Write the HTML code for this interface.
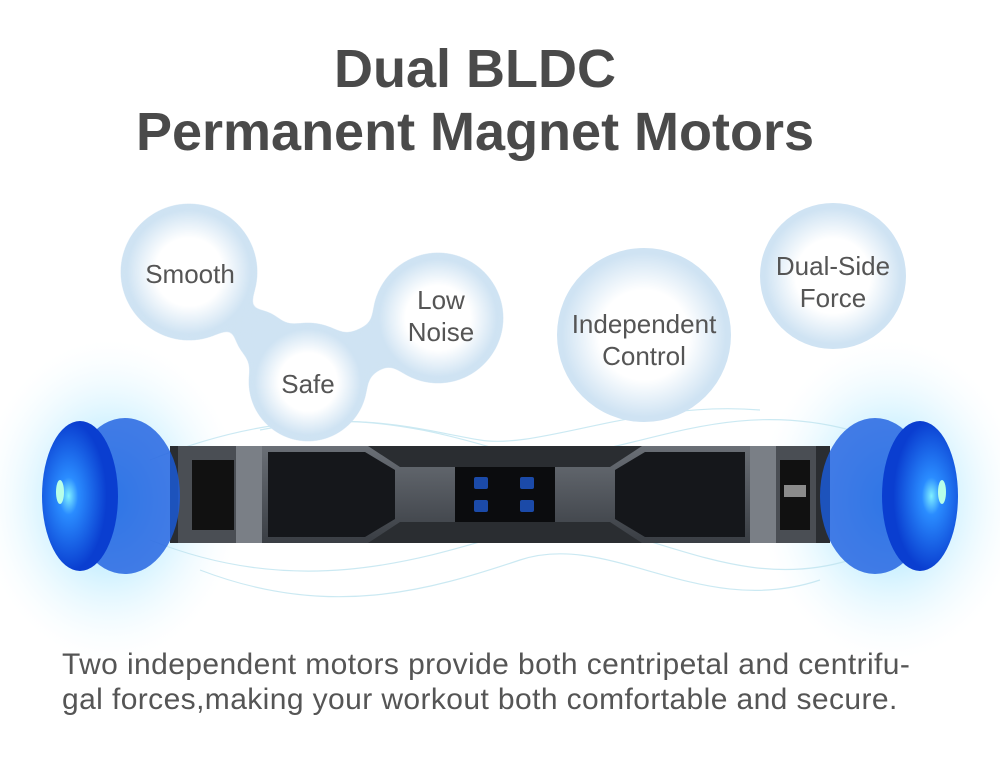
<!DOCTYPE html>
<html><head><meta charset="utf-8"><style>
html,body{margin:0;padding:0;background:#fff}
body{width:1000px;height:764px;overflow:hidden;position:relative;font-family:"Liberation Sans",sans-serif}
.t{position:absolute;left:-25px;width:1000px;text-align:center;color:#4a4a4a;font-weight:bold;font-size:54px;line-height:62px}
.b{position:absolute;left:62px;color:#555;font-size:30px;line-height:35px;width:940px;letter-spacing:0.4px}
</style></head><body>
<svg width="1000" height="764" style="position:absolute;left:0;top:0">
<defs>
<filter id="goo"><feGaussianBlur stdDeviation="9"/><feColorMatrix values="1 0 0 0 0 0 1 0 0 0 0 0 1 0 0 0 0 0 30 -12"/></filter>
<radialGradient id="inner"><stop offset="0.55" stop-color="#fff" stop-opacity="1"/><stop offset="1" stop-color="#fff" stop-opacity="0"/></radialGradient>
<radialGradient id="glow"><stop offset="0" stop-color="#5ad0ff" stop-opacity="0.8"/><stop offset="0.5" stop-color="#a8e6ff" stop-opacity="0.45"/><stop offset="1" stop-color="#e8f8ff" stop-opacity="0"/></radialGradient>
<radialGradient id="wheel" cx="0.35" cy="0.5"><stop offset="0" stop-color="#7ff0ff"/><stop offset="0.25" stop-color="#2a8cff"/><stop offset="1" stop-color="#0a3ed0"/></radialGradient>
<linearGradient id="gray" x1="0" y1="0" x2="0" y2="1"><stop offset="0" stop-color="#6a6f76"/><stop offset="1" stop-color="#3a3e44"/></linearGradient>
</defs>
<ellipse cx="110" cy="500" rx="130" ry="160" fill="url(#glow)"/>
<ellipse cx="890" cy="500" rx="130" ry="160" fill="url(#glow)"/>
<g fill="none" stroke="#bfe4f0" stroke-width="1.2" opacity="0.8">
<path d="M150 460 C300 400 400 420 500 450 S700 390 850 430"/>
<path d="M150 540 C300 600 420 560 520 530 S720 600 850 560"/>
<path d="M200 570 C330 620 430 590 520 560 S700 620 820 580"/>
<path d="M260 430 C360 410 420 430 480 440 S640 400 760 410"/>
</g>
<g filter="url(#goo)" fill="#cfe3f3">
<circle cx="189" cy="272" r="67"/><circle cx="308" cy="382" r="58"/><circle cx="438" cy="318" r="64"/>
<circle cx="260" cy="335" r="24"/><circle cx="368" cy="350" r="22"/>
</g>
<g>
<circle cx="189" cy="272" r="62" fill="url(#inner)"/><circle cx="308" cy="382" r="53" fill="url(#inner)"/><circle cx="438" cy="318" r="59" fill="url(#inner)"/>
<circle cx="644" cy="335" r="87" fill="#cfe3f3"/><circle cx="644" cy="335" r="82" fill="url(#inner)"/>
<circle cx="833" cy="276" r="73" fill="#cfe3f3"/><circle cx="833" cy="276" r="68" fill="url(#inner)"/>
</g>
<g font-size="26" fill="#555" text-anchor="middle" font-family="Liberation Sans,sans-serif">
<text x="190" y="283">Smooth</text><text x="308" y="393">Safe</text>
<text x="441" y="309">Low</text><text x="441" y="341">Noise</text>
<text x="644" y="333">Independent</text><text x="644" y="365">Control</text>
<text x="833" y="275">Dual-Side</text><text x="833" y="307">Force</text>
</g>
<rect x="170" y="446" width="660" height="97" fill="#2a2d31"/>
<rect x="178" y="446" width="58" height="97" fill="#4a4e54"/><rect x="192" y="460" width="42" height="70" fill="#111"/>
<rect x="236" y="446" width="26" height="97" fill="#7a7f86"/>
<path d="M262 446 H368 L400 467 H455 V522 H400 L368 543 H262 Z" fill="url(#gray)"/>
<path d="M268 452 H365 L395 470 V519 L365 537 H268 Z" fill="#15171b"/>
<rect x="455" y="467" width="100" height="55" fill="#0b0c0e"/>
<rect x="474" y="477" width="14" height="12" rx="2" fill="#1b4aa8"/><rect x="520" y="477" width="14" height="12" rx="2" fill="#1b4aa8"/>
<rect x="474" y="500" width="14" height="12" rx="2" fill="#1b4aa8"/><rect x="520" y="500" width="14" height="12" rx="2" fill="#1b4aa8"/>
<path d="M555 467 H610 L642 446 H750 V543 H642 L610 522 H555 Z" fill="url(#gray)"/>
<path d="M615 470 L645 452 H745 V537 H645 L615 519 Z" fill="#15171b"/>
<rect x="750" y="446" width="26" height="97" fill="#7a7f86"/>
<rect x="776" y="446" width="40" height="97" fill="#4a4e54"/><rect x="780" y="460" width="30" height="70" fill="#111"/>
<rect x="784" y="485" width="22" height="12" fill="#ddd" opacity="0.6"/>
<ellipse cx="125" cy="496" rx="55" ry="78" fill="#1a5ce0" opacity="0.8"/>
<ellipse cx="80" cy="496" rx="38" ry="75" fill="url(#wheel)"/>
<ellipse cx="875" cy="496" rx="55" ry="78" fill="#1a5ce0" opacity="0.8"/>
<ellipse cx="920" cy="496" rx="38" ry="75" fill="url(#wheel)" transform="rotate(180 920 496)"/>
<ellipse cx="60" cy="492" rx="4" ry="12" fill="#b8ffe8"/><ellipse cx="942" cy="492" rx="4" ry="12" fill="#b8ffe8"/>
</svg>
<div class="t" style="top:38px">Dual BLDC</div>
<div class="t" style="top:101px">Permanent Magnet Motors</div>
<div class="b" style="top:647px">Two independent motors provide both centripetal and centrifu-<br>gal forces,making your workout both comfortable and secure.</div>
</body></html>
